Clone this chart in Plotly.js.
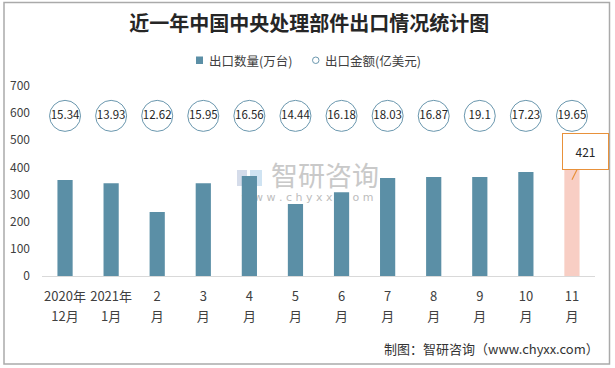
<!DOCTYPE html>
<html>
<head>
<meta charset="utf-8">
<script src="https://cdn.plot.ly/plotly-3.0.1.min.js"></script>
<style>html,body{margin:0;padding:0;background:#fff}#chart{width:615px;height:368px}</style>
</head>
<body>
<div id="chart"></div>
<script>
const categories = ["2020年12月","2021年1月","2月","3月","4月","5月","6月","7月","8月","9月","10月","11月"];
const tickTop = ["2020年","2021年","2","3","4","5","6","7","8","9","10","11"];
const tickBottom = ["12月","1月","月","月","月","月","月","月","月","月","月","月"];
const exportVolume = [354, 342, 236, 342, 368, 265, 309, 361, 365, 365, 383, 421];
const exportValue = [15.34, 13.93, 12.62, 15.95, 16.56, 14.44, 16.18, 18.03, 16.87, 19.1, 17.23, 19.65];
const valueLabelRow = 590; // height of the circled value labels row (value axis units)
const yTicks = [0, 100, 200, 300, 400, 500, 600, 700];

const barBlue = "#5B8FA6";
const pink = "#F8CEC4";
const barColors = exportVolume.map((v, i) => i === exportVolume.length - 1 ? pink : barBlue);

const CJK = "'Noto Sans CJK SC', 'Liberation Sans', sans-serif";

const L = 42, R = 20, T = 86, B = 92, W = 615, H = 368;
const pw = W - L - R, ph = H - T - B;
const px = x => (x - L) / pw;
const py = y => (H - B - y) / ph;

const traces = [
  {
    type: "bar", x: categories, y: exportVolume, name: "出口数量(万台)",
    marker: {color: barColors, line: {width: 0}},
    showlegend: false, hoverinfo: "skip"
  },
  {
    type: "scatter", mode: "markers+text", x: categories, xaxis: "x2",
    y: exportValue.map(() => valueLabelRow),
    text: exportValue.map(String), textposition: "middle center",
    textfont: {family: CJK, size: 11.5, color: "#262626"},
    marker: {symbol: "circle-open", size: 31, color: "#6A97AE", line: {width: 1, color: "#6A97AE"}},
    showlegend: false, hoverinfo: "skip", cliponaxis: false
  }
];

const tickFont = {family: CJK, size: 13, color: "#404040"};

const layout = {
  width: W, height: H,
  margin: {l: L, r: R, t: T, b: B, autoexpand: false},
  paper_bgcolor: "#fff", plot_bgcolor: "#fff",
  showlegend: false,
  bargap: 0.67,
  font: {family: CJK, color: "#404040"},
  title: {text: "近一年中国中央处理部件出口情况统计图", x: 0.503, xanchor: "center", y: 1 - 24 / H, yanchor: "middle",
          automargin: false,
          font: {family: CJK, size: 20, color: "#262626", weight: "bold"}},
  xaxis: {type: "category", range: [-0.5, categories.length - 0.5], automargin: false, tickangle: 0, showgrid: false, zeroline: false,
          showline: true, linecolor: "#D9D9D9", linewidth: 1, tickmode: "array", tickvals: categories, ticktext: tickTop,
          ticks: "", tickfont: tickFont, ticklabelstandoff: 8, fixedrange: true},
  xaxis2: {type: "category", overlaying: "x", side: "bottom", anchor: "y", range: [-0.5, categories.length - 0.5], automargin: false,
          tickangle: 0, showgrid: false, zeroline: false, showline: false, tickmode: "array", tickvals: categories, ticktext: tickBottom,
          ticks: "", tickfont: tickFont, ticklabelstandoff: 31, fixedrange: true},
  yaxis: {range: [0, 700], automargin: false, tickvals: yTicks, showgrid: false, zeroline: false, showline: false, ticks: "",
          tickfont: {family: CJK, size: 12, color: "#404040"}, ticklabelstandoff: 11, fixedrange: true},
  shapes: [
    {type: "rect", xref: "paper", yref: "paper", x0: px(4), x1: px(609.5), y0: py(364), y1: py(2.5),
     line: {color: "#AAAAAA", width: 1.5}, fillcolor: "rgba(0,0,0,0)", layer: "below"},
    {type: "rect", xref: "paper", yref: "paper", x0: px(265), x1: px(385), y0: py(190), y1: py(166),
     line: {width: 0}, fillcolor: "rgba(0,0,0,0)", layer: "below",
     label: {text: "智研咨询", font: {family: CJK, size: 27, color: "#C9C9C9"}, textposition: "middle center"}},
    {type: "rect", xref: "paper", yref: "paper", x0: px(235), x1: px(380), y0: py(203), y1: py(190),
     line: {width: 0}, fillcolor: "rgba(0,0,0,0)", layer: "below",
     label: {text: "w w w . c h y x x . c o m", font: {family: "'DejaVu Sans', sans-serif", size: 11, color: "#BDBDBD"}, textposition: "middle center"}},
    {type: "rect", xref: "paper", yref: "paper", x0: px(237), x1: px(247), y0: py(186), y1: py(170),
     line: {width: 0}, fillcolor: "#D5DCEA", layer: "below"},
    {type: "rect", xref: "paper", yref: "paper", x0: px(250), x1: px(262), y0: py(186), y1: py(170),
     line: {width: 0}, fillcolor: "#CFE3F2", layer: "below"},
    {type: "rect", xref: "paper", yref: "paper", x0: px(196), x1: px(203), y0: py(64), y1: py(56.5),
     line: {width: 0}, fillcolor: barBlue},
    {type: "circle", xref: "paper", yref: "paper", x0: px(312.5), x1: px(319), y0: py(63.5), y1: py(57),
     line: {width: 1, color: "#6A97AE"}, fillcolor: "#fff"}
  ],
  annotations: [
    {xref: "paper", yref: "paper", x: px(207), y: py(60.5), xanchor: "left", yanchor: "middle", showarrow: false,
     text: "出口数量(万台)", font: {family: CJK, size: 12.5, color: "#404040"}},
    {xref: "paper", yref: "paper", x: px(323), y: py(60.5), xanchor: "left", yanchor: "middle", showarrow: false,
     text: "出口金额(亿美元)", font: {family: CJK, size: 12.5, color: "#404040"}},
    {xref: "paper", yref: "paper", x: px(601), y: py(348), xanchor: "right", yanchor: "middle", showarrow: false,
     text: "制图：智研咨询（www.chyxx.com）", font: {family: CJK, size: 13, color: "#333333"}},
    {x: categories[categories.length - 1], y: exportVolume[exportVolume.length - 1], xref: "x", yref: "y",
     text: String(exportVolume[exportVolume.length - 1]), showarrow: true, arrowhead: 0, arrowwidth: 1.2,
     arrowcolor: "#E8913A", ax: 14, ay: -28, yshift: -18, width: 43, height: 33,
     bordercolor: "#E8913A", borderwidth: 1, bgcolor: "#fff",
     font: {family: CJK, size: 12, color: "#262626"}}
  ]
};

Plotly.newPlot("chart", traces, layout, {displayModeBar: false, staticPlot: true});
</script>
</body>
</html>
